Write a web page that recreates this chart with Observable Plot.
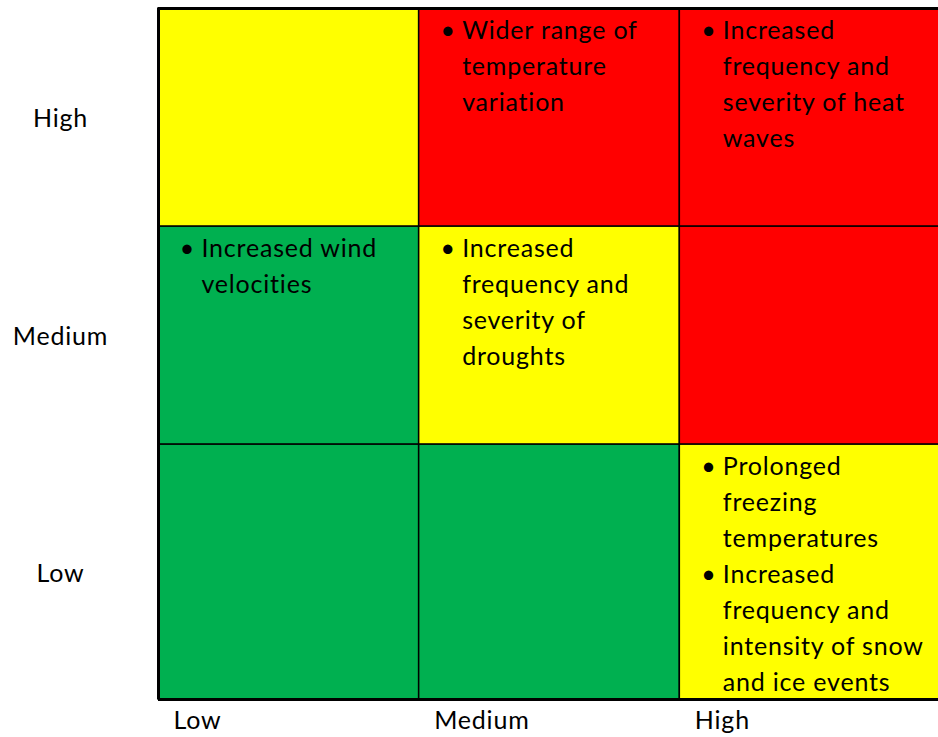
<!DOCTYPE html>
<html>
<head>
<meta charset="utf-8">
<script src="https://cdn.jsdelivr.net/npm/d3@7"></script>
<script src="https://cdn.jsdelivr.net/npm/@observablehq/plot@0.6"></script>
<style>
  html, body { margin: 0; padding: 0; background: #fff; }
  svg { display: block; }
  svg text { letter-spacing: 0.8px; }
</style>
</head>
<body>
<div id="chart"></div>
<script>
// Column categories (left to right) and row categories (bottom to top)
const xLevels = ["Low", "Medium", "High"];
const yLevels = ["Low", "Medium", "High"];
// Relative row heights (bottom row is taller in the reference)
const rowWeights = [1.17, 1, 1];

// Cell colours per row, columns Low, Medium, High
const rowLowColors = ["#00B050", "#00B050", "#FFFF00"];
const rowMediumColors = ["#00B050", "#FFFF00", "#FF0000"];
const rowHighColors = ["#FFFF00", "#FF0000", "#FF0000"];

// Bulleted items: column level, row level, text (wrapped as in the reference)
const itemX = ["Medium", "High", "Low", "Medium", "High", "High"];
const itemY = ["High", "High", "Medium", "Medium", "Low", "Low"];
const itemText = [
  "Wider range of\ntemperature\nvariation",
  "Increased\nfrequency and\nseverity of heat\nwaves",
  "Increased wind\nvelocities",
  "Increased\nfrequency and\nseverity of\ndroughts",
  "Prolonged\nfreezing\ntemperatures",
  "Increased\nfrequency and\nintensity of snow\nand ice events"
];

// Row extents from weights
const rowEdges = [0];
rowWeights.forEach(w => rowEdges.push(rowEdges[rowEdges.length - 1] + w));
const yTop = rowEdges[rowEdges.length - 1];
const rowColors = [rowLowColors, rowMediumColors, rowHighColors];

const cells = [];
yLevels.forEach((yl, yi) => {
  xLevels.forEach((xl, xi) => {
    cells.push({x1: xi, x2: xi + 1, y1: rowEdges[yi], y2: rowEdges[yi + 1], color: rowColors[yi][xi]});
  });
});

// Combine items per cell: text block and bullet block
const cellText = new Map();
itemText.forEach((t, i) => {
  const key = itemX[i] + "|" + itemY[i];
  if (!cellText.has(key)) cellText.set(key, {x: xLevels.indexOf(itemX[i]), y: rowEdges[yLevels.indexOf(itemY[i]) + 1], lines: [], bullets: []});
  const c = cellText.get(key);
  const ls = t.split("\n");
  ls.forEach((l, j) => { c.lines.push(l); c.bullets.push(j === 0 ? "•" : ""); });
});
const texts = Array.from(cellText.values()).map(c => ({x: c.x, y: c.y, text: c.lines.join("\n"), bullet: c.bullets.join("\n")}));

const rowCenters = yLevels.map((d, i) => (rowEdges[i] + rowEdges[i + 1]) / 2);
const font = "Lato, 'Open Sans', sans-serif";
const fs = 25;

const chart = Plot.plot({
  width: 938,
  height: 737,
  marginLeft: 158,
  marginTop: 8,
  marginRight: -2,
  marginBottom: 38,
  style: {fontFamily: font, background: "white", color: "black"},
  x: {domain: [0, 3], axis: null},
  y: {domain: [0, yTop], axis: null},
  color: {type: "identity"},
  marks: [
    Plot.rect(cells, {x1: "x1", x2: "x2", y1: "y1", y2: "y2", fill: "color", stroke: "black", strokeWidth: 1.5}),
    Plot.ruleX([0], {stroke: "black", strokeWidth: 3}),
    Plot.ruleY([0, yTop], {stroke: "black", strokeWidth: 3}),
    Plot.text(texts, {x: "x", y: "y", text: "text", textAnchor: "start", lineAnchor: "top", dx: 43, dy: 5, fontSize: fs, lineHeight: 36 / fs, fill: "black"}),
    Plot.text(texts, {x: "x", y: "y", text: "bullet", textAnchor: "middle", lineAnchor: "top", dx: 29, dy: 5, fontSize: fs, lineHeight: 36 / fs, fill: "black"}),
    Plot.axisY({ticks: rowCenters, tickFormat: d => yLevels[rowCenters.indexOf(d)], tickSize: 0, tickPadding: 98, textAnchor: "middle", fontSize: fs, dy: 2}),
    Plot.axisX({ticks: [0, 1, 2], tickFormat: d => xLevels[d], tickSize: 0, tickPadding: 12, textAnchor: "start", dx: 15, fontSize: fs})
  ]
});
document.getElementById("chart").append(chart);
</script>
</body>
</html>
